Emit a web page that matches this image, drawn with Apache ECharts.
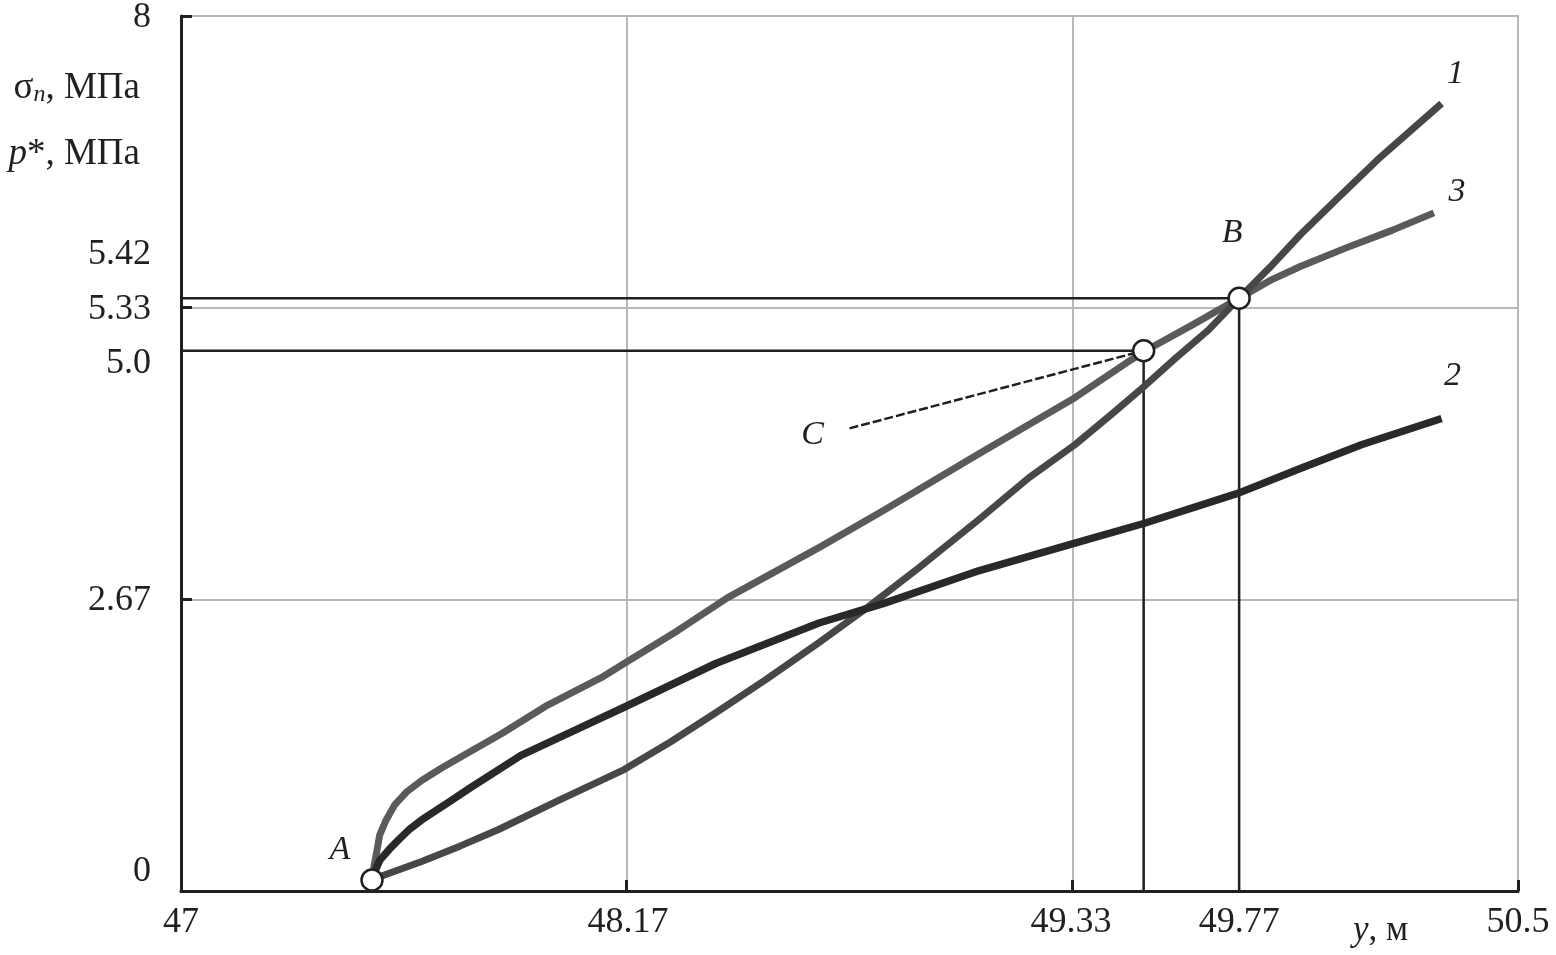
<!DOCTYPE html>
<html>
<head>
<meta charset="utf-8">
<script src="https://cdn.jsdelivr.net/npm/echarts@6/dist/echarts.min.js"></script>
<style>
html,body{margin:0;padding:0;background:#ffffff;}
#c{width:1556px;height:955px;}
</style>
</head>
<body>
<div id="c"></div>
<script>
// ---------- data ----------
const xTickValues = [47, 48.17, 49.33, 49.77, 50.5];
const xTickLabels = ['47', '48.17', '49.33', '49.77', '50.5'];
const yTickValues = [0, 2.67, 5.0, 5.33, 5.42, 8];
const yTickLabels = ['0', '2.67', '5.0', '5.33', '5.42', '8'];

const curve1 = [[47.50,0.10],[47.52,0.13],[47.63,0.27],[47.73,0.41],[47.83,0.56],[47.99,0.83],[48.16,1.11],[48.28,1.36],[48.40,1.63],[48.53,1.93],[48.67,2.27],[48.80,2.60],[48.93,2.95],[49.09,3.40],[49.22,3.78],[49.34,4.08],[49.44,4.37],[49.52,4.61],[49.60,4.86],[49.69,5.13],[49.77,5.42],[49.85,5.70],[49.93,6.00],[50.03,6.34],[50.14,6.71],[50.30,7.20]];
const curve2 = [[47.50,0.10],[47.51,0.20],[47.52,0.28],[47.545,0.38],[47.57,0.47],[47.60,0.57],[47.63,0.65],[47.70,0.81],[47.76,0.95],[47.89,1.24],[48.05,1.50],[48.16,1.68],[48.40,2.08],[48.67,2.45],[48.84,2.63],[49.09,2.93],[49.34,3.18],[49.52,3.36],[49.77,3.64],[49.92,3.85],[50.09,4.08],[50.30,4.32]];
const curve3 = [[47.50,0.10],[47.505,0.22],[47.513,0.37],[47.52,0.51],[47.537,0.65],[47.56,0.79],[47.592,0.91],[47.63,1.01],[47.68,1.12],[47.73,1.22],[47.84,1.44],[47.96,1.70],[48.10,1.95],[48.16,2.08],[48.30,2.38],[48.43,2.68],[48.67,3.14],[48.83,3.46],[49.09,4.00],[49.34,4.51],[49.48,4.84],[49.52,4.93],[49.65,5.18],[49.77,5.42],[49.85,5.58],[49.93,5.71],[50.05,5.88],[50.17,6.04],[50.28,6.20]];
const curveNames = ['1', '2', '3'];

const pointA = [47.5, 0.1];
const pointB = [49.77, 5.42];
const pointC = [49.52, 4.94];
const leaderStart = [48.75, 4.23];
const pointNames = ['A', 'B', 'C'];

// ---------- chart ----------
const X_MIN = 47, X_MAX = 50.5, Y_MIN = 0, Y_MAX = 8;
const SERIF = '"Liberation Serif", "DejaVu Serif", serif';
const INK = '#231f20';

const chart = echarts.init(document.getElementById('c'), null, {renderer: 'canvas'});

const option = {
  animation: false,
  backgroundColor: '#ffffff',
  grid: {
    left: 181, right: 38, top: 16, bottom: 64,
    show: true, borderColor: '#b8b8b8', borderWidth: 2,
    outerBoundsMode: 'none', containLabel: false
  },
  xAxis: {
    type: 'value', min: X_MIN, max: X_MAX, interval: (X_MAX - X_MIN) / 3,
    axisLine: {show: true, onZero: false, lineStyle: {color: INK, width: 3}},
    axisTick: {show: true, inside: true, length: 11, lineStyle: {color: INK, width: 3}},
    splitLine: {show: true, lineStyle: {color: '#b8b8b8', width: 2}},
    axisLabel: {
      show: true, customValues: xTickValues, margin: 14, hideOverlap: false,
      showMinLabel: true, showMaxLabel: true,
      fontFamily: SERIF, fontSize: 36, color: INK,
      formatter: function (v) {
        let best = 0;
        for (let i = 0; i < xTickValues.length; i++) {
          if (Math.abs(xTickValues[i] - v) < Math.abs(xTickValues[best] - v)) best = i;
        }
        return xTickLabels[best];
      }
    }
  },
  yAxis: {
    type: 'value', min: Y_MIN, max: Y_MAX, interval: (Y_MAX - Y_MIN) / 3,
    axisLine: {show: true, onZero: false, lineStyle: {color: INK, width: 3}},
    axisTick: {show: true, inside: true, length: 11, lineStyle: {color: INK, width: 3}},
    splitLine: {show: true, lineStyle: {color: '#b8b8b8', width: 2}},
    axisLabel: {show: false}
  },
  series: [
    // reference lines to B and C
    {type: 'line', z: 2, silent: true, symbol: 'none',
     data: [[X_MIN, pointB[1]], pointB, [pointB[0], Y_MIN]],
     lineStyle: {color: INK, width: 2.5}},
    {type: 'line', z: 2, silent: true, symbol: 'none',
     data: [[X_MIN, pointC[1]], pointC, [pointC[0], Y_MIN]],
     lineStyle: {color: INK, width: 2.5}},
    {type: 'line', z: 2, silent: true, symbol: 'none',
     data: [leaderStart, pointC],
     lineStyle: {color: INK, width: 2.5, type: [9, 3]}},
    // curves
    {name: '3', type: 'line', z: 3, symbol: 'none', smooth: false,
     data: curve3, lineStyle: {color: '#5a5a5a', width: 7, cap: 'butt', join: 'round'}},
    {name: '1', type: 'line', z: 3, symbol: 'none', smooth: false,
     data: curve1, lineStyle: {color: '#474747', width: 7, cap: 'butt', join: 'round'}},
    {name: '2', type: 'line', z: 3, symbol: 'none', smooth: false,
     data: curve2, lineStyle: {color: '#2b2828', width: 7.5, cap: 'butt', join: 'round'}},
    // points A, B, C
    {type: 'scatter', z: 6, symbol: 'circle', symbolSize: 21,
     data: [pointA, pointB, pointC],
     itemStyle: {color: '#ffffff', borderColor: INK, borderWidth: 2.5, opacity: 1}}
  ]
};
chart.setOption(option);

// ---------- text annotations positioned through the axes ----------
const toPx = p => chart.convertToPixel({gridIndex: 0}, p);
const graphics = [];

// y tick labels (right aligned, some shifted to avoid overlap as in the original)
const yShift = [-19, 2, 19, 2, -44, 2];
yTickValues.forEach((v, i) => {
  const p = toPx([X_MIN, v]);
  graphics.push({type: 'text', x: p[0] - 30, y: p[1] + yShift[i], silent: true,
    style: {text: yTickLabels[i], font: '36px ' + SERIF, fill: INK, align: 'right', verticalAlign: 'middle'}});
});

// curve number labels near the end of each curve
const curves = [curve1, curve2, curve3];
const curveOff = [[14, -29], [11, -42], [23, -21]];
curves.forEach((c, i) => {
  const p = toPx(c[c.length - 1]);
  graphics.push({type: 'text', x: p[0] + curveOff[i][0], y: p[1] + curveOff[i][1], silent: true,
    style: {text: curveNames[i], font: 'italic 34px ' + SERIF, fill: INK, align: 'center', verticalAlign: 'middle'}});
});

// point labels
const pA = toPx(pointA), pB = toPx(pointB), pL = toPx(leaderStart);
const ptLab = [[pA, -32, -30], [pB, -7, -65], [pL, -37, 7]];
ptLab.forEach((d, i) => {
  graphics.push({type: 'text', x: d[0][0] + d[1], y: d[0][1] + d[2], silent: true,
    style: {text: pointNames[i], font: 'italic 34px ' + SERIF, fill: INK, align: 'center', verticalAlign: 'middle'}});
});

// axis titles
graphics.push({type: 'text', x: 140, y: 88, silent: true,
  style: {text: '{g|σ}{s|n}{g|, МПа}', align: 'right', verticalAlign: 'middle',
    rich: {g: {font: '37px ' + SERIF, fill: INK},
           s: {font: 'italic 24px ' + SERIF, fill: INK, verticalAlign: 'bottom', padding: [8, 0, 0, 0]}}}});
graphics.push({type: 'text', x: 140, y: 154, silent: true,
  style: {text: '{i|p}{g|*, МПа}', align: 'right', verticalAlign: 'middle',
    rich: {g: {font: '37px ' + SERIF, fill: INK},
           i: {font: 'italic 37px ' + SERIF, fill: INK}}}});
graphics.push({type: 'text', x: 1353, y: 931, silent: true,
  style: {text: '{i|y}{g|, м}', align: 'left', verticalAlign: 'middle',
    rich: {g: {font: '35px ' + SERIF, fill: INK},
           i: {font: 'italic 35px ' + SERIF, fill: INK}}}});

chart.setOption({graphic: graphics});
</script>
</body>
</html>
